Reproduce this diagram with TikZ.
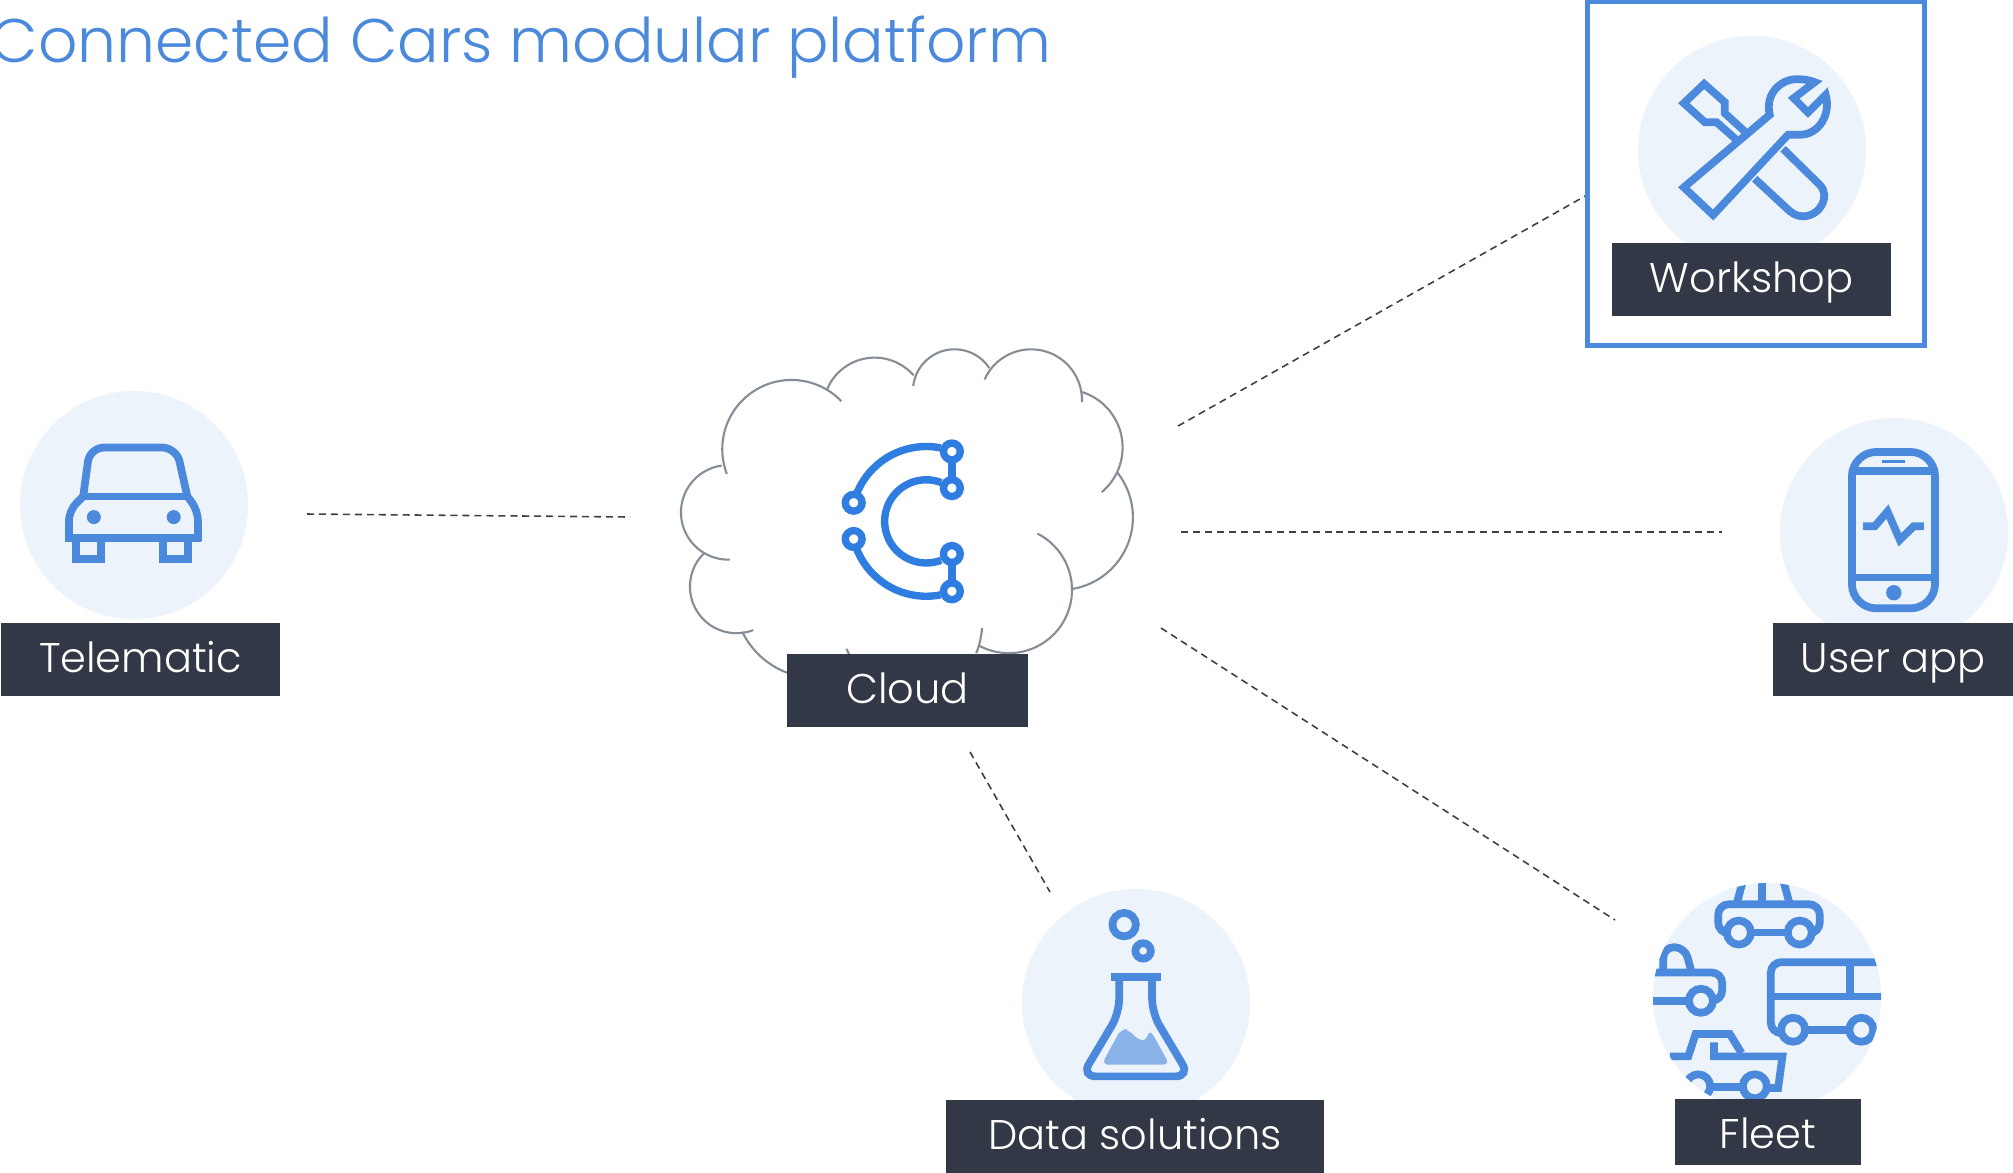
\documentclass[tikz,border=0pt]{standalone}
\usepackage{fontspec}
\setmainfont{Poppins Light}
\definecolor{iconblue}{HTML}{4A89DC}
\definecolor{logoblue}{HTML}{2F7DE1}
\definecolor{discblue}{HTML}{ECF3FB}
\definecolor{labeldark}{HTML}{323845}
\definecolor{cloudgrey}{HTML}{858E96}
\tikzset{
  zoomed/.style={x=0.003333cm,y=-0.003333cm},
  disc/.style={circle,fill=discblue,minimum size=2.28cm,inner sep=0pt},
  tag/.style={fill=labeldark,text=white,font=\fontsize{11.8}{14}\selectfont,inner sep=0pt,text height=14.2pt,text depth=6.8pt},
  iconline/.style={draw=iconblue,line width=2.2pt},
  logoline/.style={draw=logoblue,line width=2.1pt},
  cloudline/.style={draw=cloudgrey,line width=0.6pt},
  link/.style={draw=black!75,line width=0.45pt,dash pattern=on 2pt off 1.4pt}
}
\begin{document}
\begin{tikzpicture}[x=0.01cm,y=-0.01cm]
\useasboundingbox (0,0) rectangle (2013,1172);
\clip (0,0) rectangle (2013,1172);
\fill[white] (0,0) rectangle (2013,1172);

\node[anchor=base west,text=iconblue,font=\fontsize{17.5}{22}\selectfont,inner sep=0pt] (title) at (-10,62) {Connected Cars modular platform};

% link ends
\coordinate (telematicend) at (307,514);
\coordinate (cloudleft) at (630,517);
\coordinate (cloudtop) at (1178,426);
\coordinate (workshopend) at (1587,195);
\coordinate (cloudright) at (1181,532);
\coordinate (userend) at (1722,532);
\coordinate (cloudlow) at (1161,628);
\coordinate (fleetend) at (1615,920);
\coordinate (cloudbottom) at (970,752);
\coordinate (dataend) at (1050,892);

\draw[link] (telematicend) -- (cloudleft);
\draw[link] (cloudtop) -- (workshopend);
\draw[link] (cloudright) -- (userend);
\draw[link] (cloudlow) -- (fleetend);
\draw[link] (cloudbottom) -- (dataend);

% workshop frame
\node[draw=iconblue,line width=1.45pt,minimum width=3.36cm,minimum height=3.43cm,inner sep=0pt] (workshopframe) at (1756,173.5) {};

% discs
\node[disc] (telematic) at (134,505) {};
\node[disc] (workshop) at (1752,150) {};
\node[disc] (userapp) at (1894,532) {};
\node[disc] (datasol) at (1136,1003) {};
\node[disc] (fleet) at (1767,997) {};

% cloud
\begin{scope}[shift={(660,331)},zoomed]
\foreach \cx/\cy/\rr/\aa/\ab in {395/355/208/44/201,205/545/142/98/272,230/768/140/135/291,470/795/248/206/250,1048/778/190/241/423,1203/560/218/-81/38,1215/350/175/-50/72,1115/208/153/-2/156,885/180/125/33/173,645/235/155/41/158}
  \draw[cloudline] plot[domain=\aa:\ab,samples=40] ({\cx+\rr*cos(\x)},{\cy-\rr*sin(\x)});
\draw[cloudline] (560,955) -- (570,975);
\draw[cloudline] (968,892) .. controls (965,920) and (960,945) .. (950,968);
% logo
\draw[logoline] plot[domain=159:79,samples=25] ({800+225*cos(\x)},{572-225*sin(\x)});
\draw[logoline] plot[domain=201:281,samples=25] ({800+225*cos(\x)},{572-225*sin(\x)});
\draw[logoline] plot[domain=69:291,samples=50] ({800+125*cos(\x)},{572-125*sin(\x)});
\draw[logoline] (877,362) -- (877,472);
\draw[logoline] (877,670) -- (877,782);
\foreach \px/\py in {877/362,877/472,877/670,877/782,582/516,582/625}
  \draw[logoline,fill=white] (\px,\py) circle (0.084cm);
\end{scope}

% telematic car
\begin{scope}[shift={(0,380)},zoomed]
\draw[iconline,rounded corners=4pt] (250,350) -- (270,203) -- (530,203) -- (563,350);
\draw[iconline] (245,350) -- (568,350);
\draw[iconline,rounded corners=3pt] (207,485) -- (207,392) -- (250,350);
\draw[iconline,rounded corners=3pt] (595,485) -- (595,392) -- (563,350);
\draw[iconline] (195,475) -- (605,475);
\draw[iconline] (228,475) rectangle (303,538);
\draw[iconline] (490,475) rectangle (565,538);
\fill[iconblue] (282,412) circle (0.07cm);
\fill[iconblue] (522,412) circle (0.07cm);
\end{scope}

% workshop tools
\begin{scope}[shift={(1570,0)},zoomed]
\draw[iconline] (500,420) -- (440,367) -- (405,367) -- (342,310) -- (403,252) -- (465,307) -- (465,340) -- (525,395);
\draw[iconline] (640,447) -- (750,555) .. controls (785,590) and (750,650) .. (700,650) .. controls (680,650) and (665,640) .. (650,625) -- (555,537);
\draw[iconline] (342,563) -- (600,345) .. controls (585,280) and (635,238) .. (680,238) .. controls (700,238) and (720,240) .. (735,247) -- (672,295) -- (715,338) -- (768,285) .. controls (785,340) and (750,405) .. (690,405) -- (655,405) -- (430,646) -- cycle;
\end{scope}

% phone
\begin{scope}[shift={(1760,410)},zoomed]
\draw[iconline,rounded corners=7pt] (276,126) rectangle (526,596);
\draw[iconline] (276,184) -- (526,184);
\draw[iconline] (276,503) -- (526,503);
\draw[iconline,line width=1pt] (367,155) -- (435,155);
\fill[iconblue] (402,549) circle (0.077cm);
\draw[iconline] (310,349) -- (345,349) -- (383,305) -- (420,390) -- (462,349) -- (492,349);
\end{scope}

% flask
\begin{scope}[shift={(1000,880)},zoomed]
\draw[iconline] (373,134) circle (0.117cm);
\draw[iconline] (430,213) circle (0.077cm);
\draw[iconline] (332,292) -- (483,292);
\draw[iconline,rounded corners=4pt] (358,292) -- (358,400) -- (245,590) -- (570,590) -- (457,400) -- (457,292);
\fill[iconblue!65!white,rounded corners=2pt] (305,555) -- (365,445) -- (385,450) -- (425,488) -- (445,475) -- (450,448) -- (510,555) -- cycle;
\end{scope}

% fleet
\begin{scope}
\clip (fleet) circle (1.14cm);
\begin{scope}[shift={(1630,860)},zoomed]
% top car
\draw[iconline,rounded corners=3pt] (290,220) -- (265,220) -- (265,133) -- (570,133) -- (570,220) -- (540,220);
\draw[iconline] (365,218) -- (470,218);
\draw[iconline] (320,133) -- (340,60);
\draw[iconline] (397,133) -- (397,60);
\draw[iconline] (480,133) -- (460,60);
\draw[iconline] (327,218) circle (0.12cm);
\draw[iconline] (510,218) circle (0.12cm);
% left car
\draw[iconline,rounded corners=3pt] (70,338) -- (277,338) -- (277,423) -- (250,423);
\draw[iconline] (70,423) -- (175,423);
\draw[iconline,rounded corners=3pt] (100,338) -- (100,262) -- (165,262) -- (185,338);
\draw[iconline] (213,423) circle (0.12cm);
% bus
\draw[iconline,rounded corners=3pt] (455,520) -- (423,520) -- (423,307) -- (760,307);
\draw[iconline] (423,410) -- (760,410);
\draw[iconline] (660,307) -- (660,410);
\draw[iconline] (530,510) -- (655,510);
\draw[iconline] (490,510) circle (0.12cm);
\draw[iconline] (695,510) circle (0.12cm);
% lower car
\draw[iconline] (120,590) -- (175,590) -- (197,523) -- (300,523) -- (335,580);
\draw[iconline] (252,548) -- (252,590) -- (458,590) -- (445,685) -- (415,685);
\draw[iconline] (245,682) -- (335,682);
\draw[iconline] (375,680) circle (0.12cm);
\draw[iconline] (205,680) circle (0.12cm);
\end{scope}
\end{scope}

% labels
\node[tag,minimum width=2.79cm] (telematiclabel) at (140.5,659.5) {Telematic};
\node[tag,minimum width=2.79cm] (workshoplabel) at (1751.5,279.5) {Workshop};
\node[tag,minimum width=2.40cm] (userlabel) at (1893,659.5) {User app};
\node[tag,minimum width=2.41cm] (cloudlabel) at (907.5,690.5) {Cloud};
\node[tag,minimum width=3.78cm] (datalabel) at (1135,1136.5) {Data solutions};
\node[tag,minimum width=1.86cm,text depth=4.6pt] (fleetlabel) at (1768,1132) {Fleet};
\end{tikzpicture}
\end{document}
